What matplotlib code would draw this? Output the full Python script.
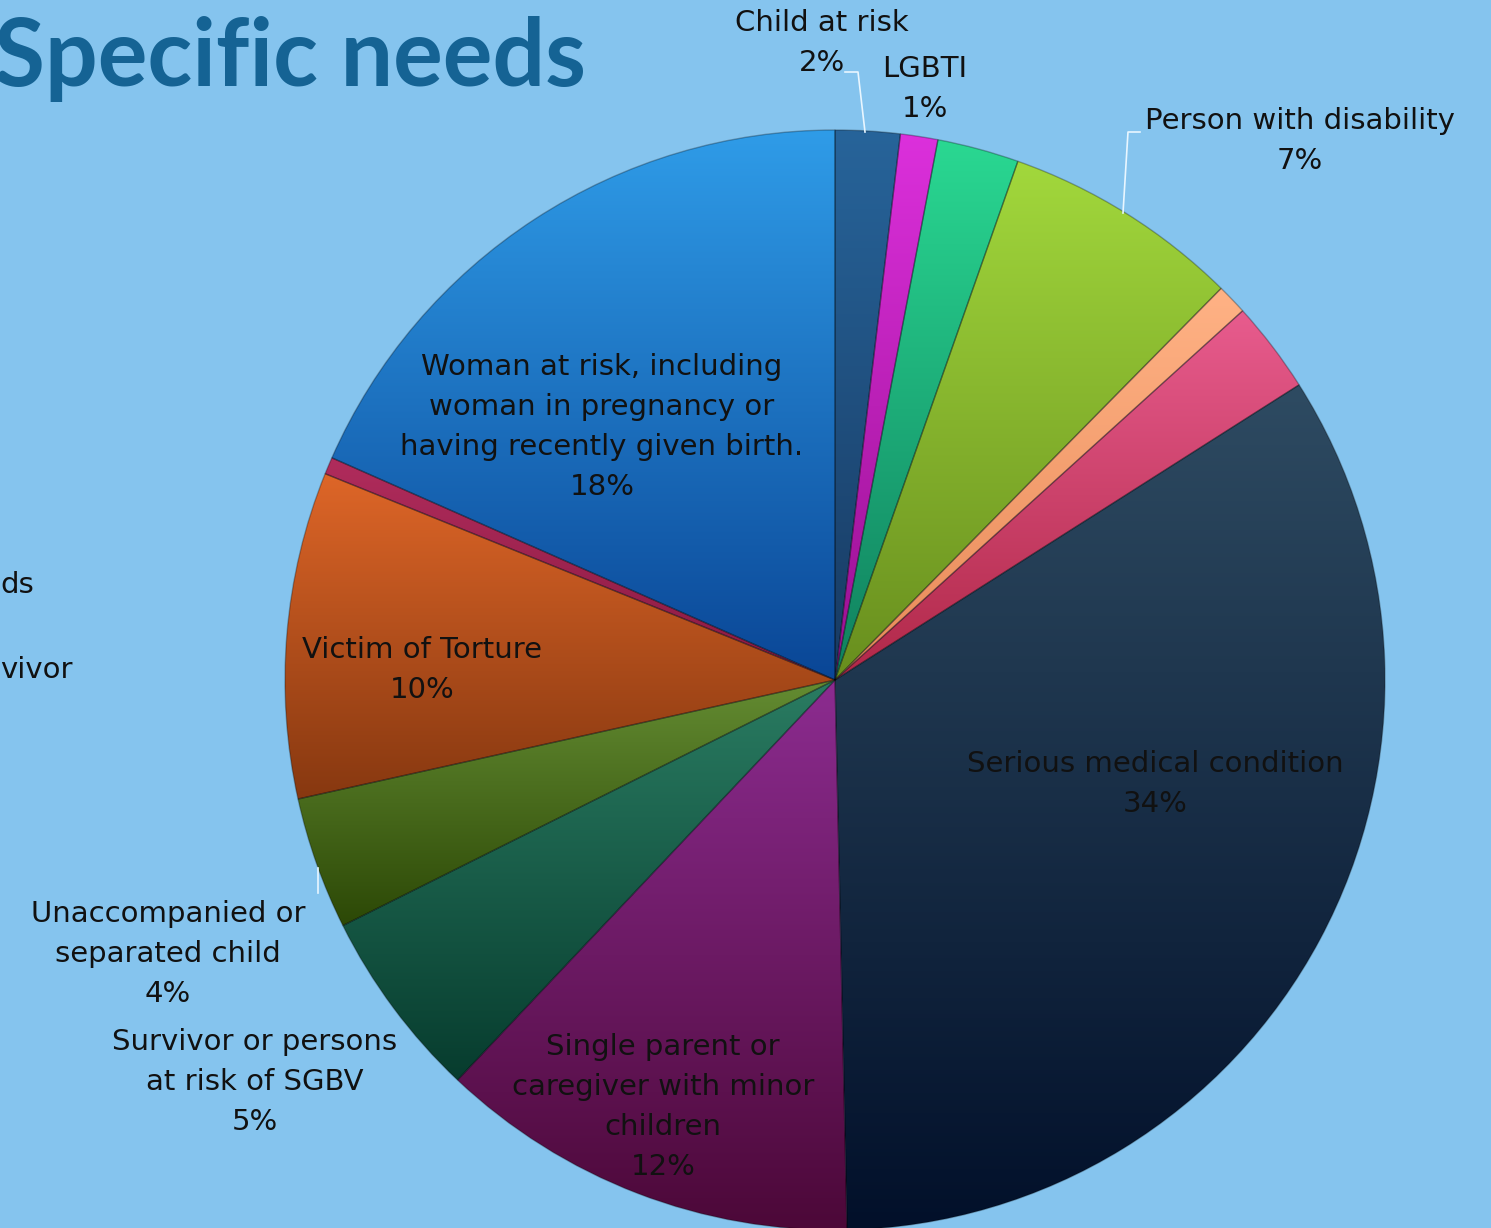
import numpy as np
import matplotlib
matplotlib.use("Agg")
import matplotlib.pyplot as plt
from matplotlib.colors import LinearSegmentedColormap

# ---------------- data ----------------
categories = [
    "Child at risk", "LGBTI", "Older person at risk", "Person with disability",
    "Family unity", "Specific legal and physical protection needs",
    "Serious medical condition", "Single parent or caregiver with minor children",
    "Survivor or persons at risk of SGBV", "Unaccompanied or separated child",
    "Victim of Torture", "Trafficking survivor",
    "Woman at risk, including woman in pregnancy or having recently given birth.",
]
values = [1.9, 1.1, 2.4, 7.0, 0.9, 2.7, 33.7, 12.4, 5.6, 3.9, 9.6, 0.5, 18.4]
pct_labels = ["2%", "1%", "", "7%", "", "", "34%", "12%", "5%", "4%", "10%", "", "18%"]

# gradient colours (top, bottom) per slice
grad_top = ["#27649a", "#dc30dc", "#2ad892", "#a2d83c", "#ffb285", "#e85c8e",
            "#2e4b62", "#8c2c90", "#2a7c62", "#648c32", "#de6628", "#b02c5c", "#2f9ce8"]
grad_bot = ["#183a62", "#981090", "#10805e", "#688e1e", "#e88a58", "#b02848",
            "#02102a", "#4c0838", "#073c2e", "#2c4806", "#873810", "#8a1a42", "#0a4696"]

W, H = 1491, 1228
fig = plt.figure(figsize=(W / 100, H / 100), dpi=100)
bg = "#85c4ee"
fig.patch.set_facecolor(bg)
ax = fig.add_axes([0, 0, 1, 1])
ax.set_facecolor(bg)
ax.axis("off")

def Y(y):
    return H - y

cx, cy, R = 835, Y(680), 550
wedges, _ = ax.pie(values, startangle=90, counterclock=False, center=(cx, cy),
                   radius=R, colors=grad_top, frame=True,
                   wedgeprops=dict(edgecolor=(0, 0, 0, 0.28), linewidth=1.0))

for w, c1, c2 in zip(wedges, grad_top, grad_bot):
    bb = w.get_path().get_extents(w.get_patch_transform())
    cmap = LinearSegmentedColormap.from_list("g", [c1, c2])
    grad = np.linspace(0, 1, 256).reshape(-1, 1)
    im = ax.imshow(grad, cmap=cmap, aspect="auto", origin="upper",
                   extent=(bb.x0, bb.x1, bb.y0, bb.y1), zorder=2, interpolation="bilinear")
    im.set_clip_path(w)
    w.set_facecolor("none")
    w.set_zorder(3)

ax.set_xlim(0, W)
ax.set_ylim(0, H)
ax.set_aspect("equal")
ax.axis("off")

fs = 21
tc = "#111111"
fam = ["DejaVu Sans"]

def lab(x, y, text, ha="center"):
    ax.text(x, Y(y), text, ha=ha, va="center", fontsize=fs, color=tc,
            family=fam, linespacing=1.55, zorder=5)

lab(822, 43, categories[0] + "\n" + pct_labels[0])
lab(925, 89, categories[1] + "\n" + pct_labels[1])
lab(1300, 141, categories[3] + "\n" + pct_labels[3])
lab(1155, 784, categories[6] + "\n" + pct_labels[6])
lab(663, 1107, "Single parent or\ncaregiver with minor\nchildren\n" + pct_labels[7])
lab(255, 1082, "Survivor or persons\nat risk of SGBV\n" + pct_labels[8])
lab(168, 954, "Unaccompanied or\nseparated child\n" + pct_labels[9])
lab(422, 670, categories[10] + "\n" + pct_labels[10])
lab(602, 427, "Woman at risk, including\nwoman in pregnancy or\nhaving recently given birth.\n" + pct_labels[12])
# clipped labels at the left edge
lab(0, 585, "ds", ha="left")
lab(0, 670, "vivor", ha="left")

# leader lines
lc = "#e8f6ff"
ax.plot([845, 858, 865], [Y(72), Y(72), Y(132)], color=lc, lw=1.2, zorder=4)
ax.plot([1140, 1128, 1123], [Y(132), Y(132), Y(213)], color=lc, lw=1.2, zorder=4)
ax.plot([318, 318], [Y(868), Y(893)], color=lc, lw=1.2, zorder=4)

# title
ax.text(-6, Y(86), "Specific needs", ha="left", va="baseline", fontsize=67,
        fontweight="bold", color="#156394", family=["Lato", "DejaVu Sans"], zorder=5)

fig.savefig("out.png", dpi=100, facecolor=bg)
